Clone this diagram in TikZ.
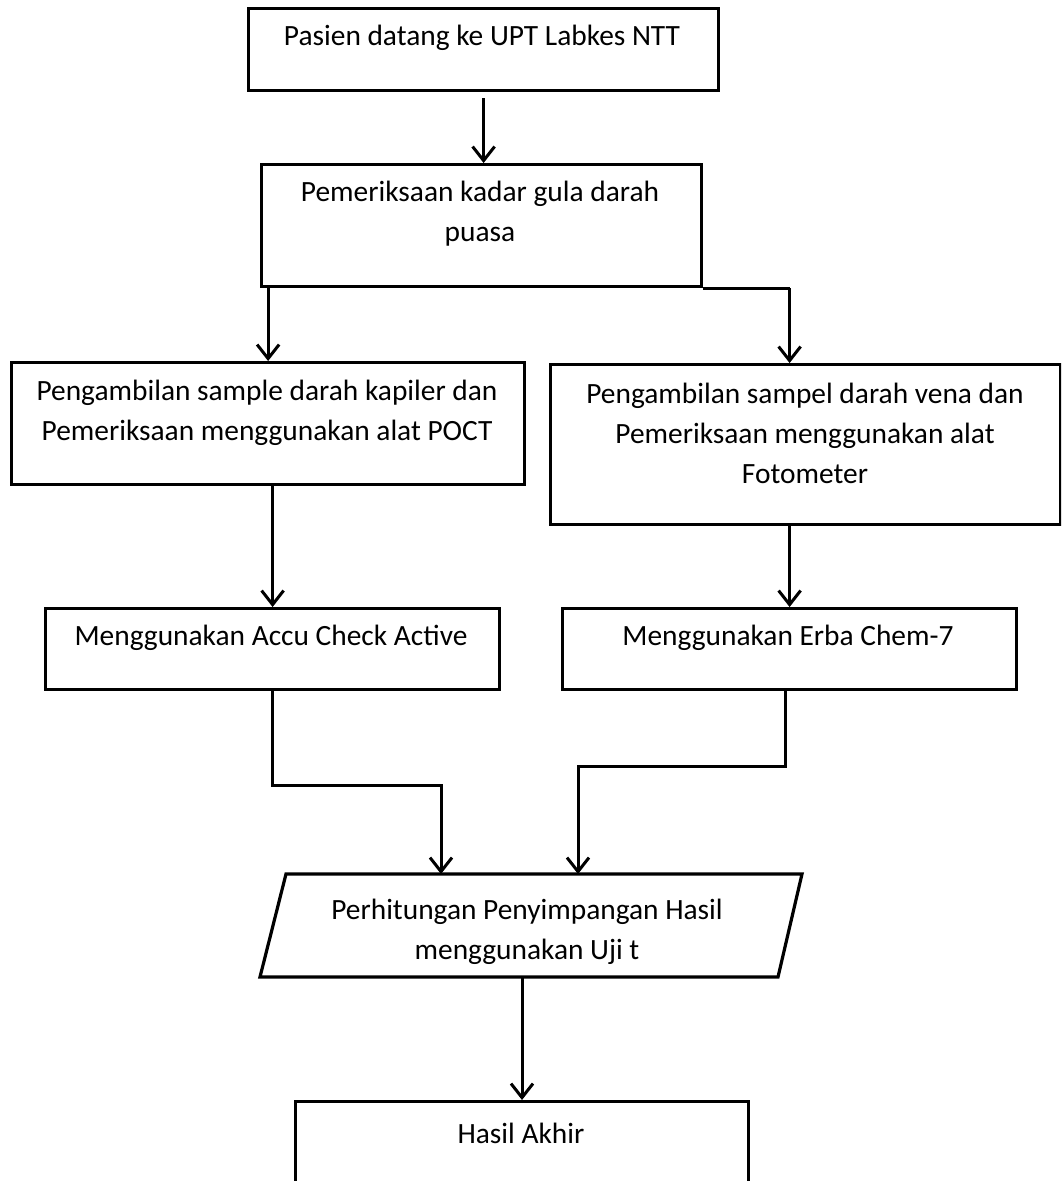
\documentclass[tikz,border=0pt]{standalone}
\usepackage{fontspec}
\setmainfont{Carlito}
\usetikzlibrary{arrows.meta,calc}
\tikzset{
  box/.style={draw=black, line width=3.2pt, rectangle, inner sep=0pt, anchor=north west},
  txt/.style={inner sep=0pt, align=center, font=\fontsize{29.4}{40}\selectfont},
  arr/.style={draw=black, line width=3pt, -{Straight Barb[length=14pt,width=22pt]}},
  conn/.style={draw=black, line width=3pt}
}
\begin{document}
\begin{tikzpicture}[x=1pt,y=-1pt]
\useasboundingbox (0,0) rectangle (1061,1181);
\clip (0,0) rectangle (1061,1181);
% boxes
\node[box, minimum width=470pt, minimum height=82pt] (b1) at (247,7) {};
\node[box, minimum width=440pt, minimum height=122pt] (b2) at (260,163) {};
\node[box, minimum width=513pt, minimum height=122pt] (b3) at (10,361) {};
\node[box, minimum width=510pt, minimum height=160pt] (b4) at (549,363) {};
\node[box, minimum width=454pt, minimum height=81pt] (b5) at (44,607) {};
\node[box, minimum width=454pt, minimum height=81pt] (b6) at (561,607) {};
\node[box, minimum width=453pt, minimum height=140pt] (b7) at (294,1100) {};
% parallelogram
\coordinate (p1) at (286,874);
\coordinate (p2) at (802,874);
\coordinate (p3) at (778,977);
\coordinate (p4) at (260,977);
\draw[line width=3.2pt, line join=miter] (p1) -- (p2) -- (p3) -- (p4) -- cycle;
% texts
\node[txt] (t1) at (482,38) {Pasien datang ke UPT Labkes NTT};
\node[txt] (t2) at (480,214) {Pemeriksaan kadar gula darah\\puasa};
\node[txt] (t3) at (267,413) {Pengambilan sample darah kapiler dan\\Pemeriksaan menggunakan alat POCT};
\node[txt] (t4) at (805,433) {Pengambilan sampel darah vena dan\\Pemeriksaan menggunakan alat\\Fotometer};
\node[txt] (t5) at (271,638) {Menggunakan Accu Check Active};
\node[txt] (t6) at (788,638) {Menggunakan Erba Chem-7};
\node[txt] (t7) at (527,932) {Perhitungan Penyimpangan Hasil\\menggunakan Uji t};
\node[txt] (t8) at (521,1133) {Hasil Akhir};
% connector points
\coordinate (jl) at (441,874);
\coordinate (jr) at (578,874);
\coordinate (pb) at (522,977);
% connectors
\draw[arr] ($(b1.south)+(0,6)$) -- (b1.south |- b2.north);
\draw[conn] (b2.south east) -- (b2.south -| b6.north);
\draw[arr] (b2.south -| b3.north) -- (b3.north);
\draw[arr] (b2.south -| b6.north) -- (b4.north -| b6.north);
\draw[arr] (b3.south -| b5.north) -- (b5.north);
\draw[arr] (b4.south -| b6.north) -- (b6.north);
\draw[arr] (b5.south) -- ++(0,94) -| (jl);
\draw[arr] ($(b6.south)+(-4,0)$) -- ++(0,75) -| (jr);
\draw[arr] (pb) -- (pb |- b7.north);
\end{tikzpicture}
\end{document}
